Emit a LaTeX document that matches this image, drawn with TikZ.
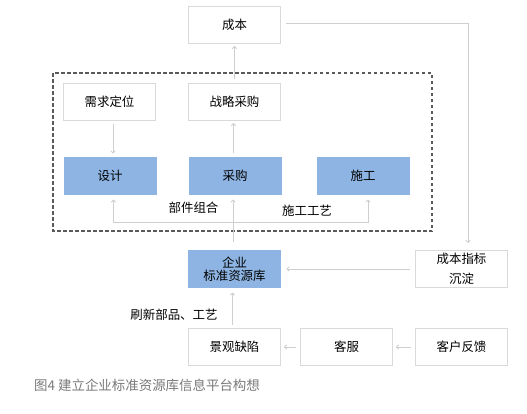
\documentclass[tikz,border=0pt]{standalone}
\usepackage{fontspec}
\setmainfont{Noto Sans CJK SC}
\usetikzlibrary{arrows.meta}
\definecolor{boxline}{HTML}{D9D9D9}
\definecolor{arrline}{HTML}{CFCFCF}
\definecolor{blu}{HTML}{8DB4E2}
\definecolor{dashgray}{HTML}{5A5A5A}
\definecolor{cap}{HTML}{7A7A7A}
\begin{document}
\begin{tikzpicture}[x=1bp,y=-1bp,
  box/.style={draw=boxline,line width=1.2bp,fill=white,minimum width=92bp,minimum height=37bp,inner sep=0pt,align=center,font=\fontsize{12.5}{14}\selectfont},
  bluebox/.style={box,draw=none,fill=blu,minimum width=93bp,minimum height=38bp},
  arr/.style={draw=arrline,line width=0.9bp,-{To[length=3bp,width=5bp]}},
  lab/.style={font=\fontsize{12.5}{14}\selectfont,inner sep=0pt}]
\useasboundingbox[fill=white] (0,0) rectangle (527,413);

% dashed frame
\draw[dashgray,line width=1.4bp,dash pattern=on 3.5bp off 2.5bp] (53,73) rectangle (432,231);

% top row
\node[box] (cost) at (234.5,25) {成本};
\node[box] (xq) at (109.5,102) {需求定位};
\node[box] (zl) at (234.5,102) {战略采购};

% blue row
\node[bluebox] (sj) at (110,176) {设计};
\node[bluebox] (cg) at (235,176) {采购};
\node[bluebox] (sg) at (363,176) {施工};

% resource library
\node[bluebox,font=\fontsize{12.5}{13.5}\selectfont] (qy) at (234.5,269) {企业\\标准资源库};
\node[box,font=\fontsize{12.5}{20}\selectfont] (cbzb) at (461.5,269) {成本指标\\沉淀};

% bottom row
\node[box] (jg) at (234.5,347) {景观缺陷};
\node[box] (kf) at (346.5,347) {客服};
\node[box] (khfk) at (461.5,347) {客户反馈};

% labels
\node[lab] (bj) at (193.5,208) {部件组合};
\node[lab] (sggy) at (307,211) {施工工艺};
\node[lab] (sx) at (174,315) {刷新部品、工艺};
\node[lab,anchor=west,text=cap,font=\fontsize{13.5}{15}\selectfont] (tu) at (34,385.5) {图4 建立企业标准资源库信息平台构想};

% connectors
\draw[arr,shorten <=3bp,shorten >=3bp] ([xshift=3.5bp]xq.south) -- ([xshift=3.5bp]xq.south |- sj.north);
\draw[arr,shorten <=3bp,shorten >=2bp] ([xshift=-1.5bp]cg.north) -- ([xshift=-1.5bp]cg.north |- zl.south);
\draw[arr,shorten <=4bp,shorten >=2bp] (zl.north) -- (cost.south);
\coordinate (lft) at ([xshift=3.5bp,yshift=-27bp]sj.south);
\coordinate (rgt) at ([xshift=5bp,yshift=-27bp]sg.south);
\draw[arr,shorten >=4bp] (lft) -- (rgt) -- (rgt |- sg.south);
\draw[arr,shorten >=4bp] (rgt) -- (lft) -- (lft |- sj.south);
\draw[arr,shorten <=7bp,shorten >=4bp] ([xshift=-1.5bp]qy.north) -- ([xshift=-1.5bp]qy.north |- cg.south);
\coordinate (cr) at ([xshift=6.5bp]cbzb.north |- cost.east);
\draw[arr,shorten <=5bp,shorten >=7bp] ([yshift=1.5bp]cost.east) -| (cr |- cbzb.north);
\draw[arr,shorten <=5bp,shorten >=5bp] (cbzb.west) -- (qy.east);
\draw[arr,shorten <=3bp,shorten >=4bp] ([xshift=-2bp]jg.north) -- ([xshift=-2bp]jg.north |- qy.south);
\draw[arr,shorten <=4bp,shorten >=3bp] (kf.west) -- (jg.east);
\draw[arr,shorten <=4bp,shorten >=3bp] (khfk.west) -- (kf.east);
\end{tikzpicture}
\end{document}
